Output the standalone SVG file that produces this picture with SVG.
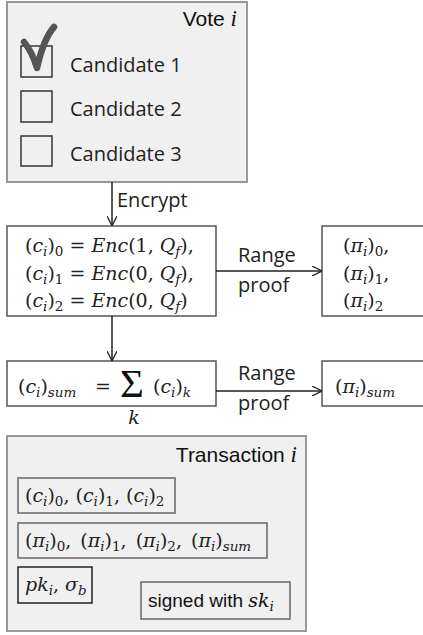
<svg xmlns="http://www.w3.org/2000/svg" width="423" height="635" viewBox="0 0 423 635">
<style>
.panel{fill:#f0f0f0;stroke:#999;stroke-width:2}
.box{fill:#fff;stroke:#555;stroke-width:1.5}
.ibox{fill:none;stroke:#666;stroke-width:1.5}
.cb{fill:none;stroke:#333;stroke-width:1.5}
.h{font-family:"Liberation Sans",Arial,sans-serif;font-size:21px;fill:#111}
.o{font-family:"Open Sans",sans-serif;font-size:20px;fill:#222}
.m{font-family:"DejaVu Serif",serif;font-size:19px;fill:#222}
.i{font-style:italic}
.s{font-size:13.5px}
.edge{fill:none;stroke:#222;stroke-width:1.5}
</style>
<defs>
<marker id="arr" viewBox="0 0 10 10" refX="10" refY="5" markerWidth="10" markerHeight="10" markerUnits="userSpaceOnUse" orient="auto">
<path d="M0,0 L10,5 L0,10" fill="none" stroke="#222" stroke-width="1.3"/>
</marker>
</defs>

<g id="vote">
<rect class="panel" x="7" y="2" width="240" height="180"/>
<text class="h" x="237" y="26" text-anchor="end">Vote <tspan font-family="Liberation Serif" font-style="italic" font-size="23">i</tspan></text>
<rect class="cb" x="21" y="46" width="31" height="31"/>
<rect class="cb" x="21" y="91" width="31" height="31"/>
<rect class="cb" x="21" y="136" width="31" height="30"/>
<path d="M24,42 C29,48 34,58 37,68 C41,50 47,35 54,27" fill="none" stroke="#555" stroke-width="6.5" stroke-linecap="round" stroke-linejoin="round"/>
<text class="o" x="70" y="72">Candidate 1</text>
<text class="o" x="70" y="116">Candidate 2</text>
<text class="o" x="70" y="161">Candidate 3</text>
</g>

<g id="enc">
<rect class="box" x="7" y="226" width="209" height="90"/>
<text class="m" x="25" y="252">(<tspan class="i">c</tspan><tspan class="i s" dy="4">i</tspan><tspan dy="-4">)</tspan><tspan class="s" dy="4">0</tspan><tspan dy="-4"> = </tspan><tspan class="i">Enc</tspan>(1, <tspan class="i">Q</tspan><tspan class="i s" dy="4">f</tspan><tspan dy="-4">),</tspan></text>
<text class="m" x="25" y="280">(<tspan class="i">c</tspan><tspan class="i s" dy="4">i</tspan><tspan dy="-4">)</tspan><tspan class="s" dy="4">1</tspan><tspan dy="-4"> = </tspan><tspan class="i">Enc</tspan>(0, <tspan class="i">Q</tspan><tspan class="i s" dy="4">f</tspan><tspan dy="-4">),</tspan></text>
<text class="m" x="25" y="307">(<tspan class="i">c</tspan><tspan class="i s" dy="4">i</tspan><tspan dy="-4">)</tspan><tspan class="s" dy="4">2</tspan><tspan dy="-4"> = </tspan><tspan class="i">Enc</tspan>(0, <tspan class="i">Q</tspan><tspan class="i s" dy="4">f</tspan><tspan dy="-4">)</tspan></text>
</g>

<g id="proofs">
<rect class="box" x="322" y="226" width="110" height="90"/>
<text class="m" x="343" y="252">(<tspan class="i">π</tspan><tspan class="i s" dy="4">i</tspan><tspan dy="-4">)</tspan><tspan class="s" dy="4">0</tspan><tspan dy="-4">,</tspan></text>
<text class="m" x="343" y="280">(<tspan class="i">π</tspan><tspan class="i s" dy="4">i</tspan><tspan dy="-4">)</tspan><tspan class="s" dy="4">1</tspan><tspan dy="-4">,</tspan></text>
<text class="m" x="343" y="307">(<tspan class="i">π</tspan><tspan class="i s" dy="4">i</tspan><tspan dy="-4">)</tspan><tspan class="s" dy="4">2</tspan></text>
</g>

<g id="sum">
<rect class="box" x="7" y="361" width="209" height="45"/>
<text class="m" x="18" y="393">(<tspan class="i">c</tspan><tspan class="i s" dy="4">i</tspan><tspan dy="-4">)</tspan><tspan class="i s" dy="4">sum</tspan></text>
<text class="m" x="95" y="393">=</text>
<text x="120" y="397" font-family="Liberation Serif" font-size="41" fill="#111">Σ</text>
<text class="m i" x="134" y="424" font-size="15" text-anchor="middle">k</text>
<text class="m" x="153" y="393">(<tspan class="i">c</tspan><tspan class="i s" dy="4">i</tspan><tspan dy="-4">)</tspan><tspan class="i s" dy="4">k</tspan></text>
</g>

<g id="sumproof">
<rect class="box" x="322" y="361" width="110" height="45"/>
<text class="m" x="335" y="393">(<tspan class="i">π</tspan><tspan class="i s" dy="4">i</tspan><tspan dy="-4">)</tspan><tspan class="i s" dy="4">sum</tspan></text>
</g>

<g id="transaction">
<rect class="panel" x="7" y="436" width="299" height="195"/>
<text class="h" x="297" y="462" text-anchor="end">Transaction <tspan font-family="Liberation Serif" font-style="italic" font-size="23">i</tspan></text>
<rect class="ibox" x="18" y="478" width="157" height="35"/>
<text class="m" x="25" y="502">(<tspan class="i">c</tspan><tspan class="i s" dy="4">i</tspan><tspan dy="-4">)</tspan><tspan class="s" dy="4">0</tspan><tspan dy="-4">, (</tspan><tspan class="i">c</tspan><tspan class="i s" dy="4">i</tspan><tspan dy="-4">)</tspan><tspan class="s" dy="4">1</tspan><tspan dy="-4">, (</tspan><tspan class="i">c</tspan><tspan class="i s" dy="4">i</tspan><tspan dy="-4">)</tspan><tspan class="s" dy="4">2</tspan></text>
<rect class="ibox" x="18" y="523" width="249" height="35"/>
<text class="m" x="25" y="547" word-spacing="3">(<tspan class="i">π</tspan><tspan class="i s" dy="4">i</tspan><tspan dy="-4">)</tspan><tspan class="s" dy="4">0</tspan><tspan dy="-4">, (</tspan><tspan class="i">π</tspan><tspan class="i s" dy="4">i</tspan><tspan dy="-4">)</tspan><tspan class="s" dy="4">1</tspan><tspan dy="-4">, (</tspan><tspan class="i">π</tspan><tspan class="i s" dy="4">i</tspan><tspan dy="-4">)</tspan><tspan class="s" dy="4">2</tspan><tspan dy="-4">, (</tspan><tspan class="i">π</tspan><tspan class="i s" dy="4">i</tspan><tspan dy="-4">)</tspan><tspan class="i s" dy="4">sum</tspan></text>
<rect x="18" y="567" width="74" height="36" fill="none" stroke="#222" stroke-width="1.5"/>
<text class="m" x="25" y="591"><tspan class="i">pk</tspan><tspan class="i s" dy="4">i</tspan><tspan dy="-4">, </tspan><tspan class="i">σ</tspan><tspan class="i s" dy="4">b</tspan></text>
<rect class="ibox" x="141" y="582" width="149" height="37"/>
<text x="148" y="607" font-family="Liberation Sans,Arial,sans-serif" font-size="19" fill="#111">signed with <tspan font-family="DejaVu Serif" font-style="italic" font-size="19">sk</tspan><tspan font-family="DejaVu Serif" font-style="italic" font-size="13.5" dy="4">i</tspan></text>
</g>

<g id="connectors">
<line class="edge" x1="112" y1="182" x2="112" y2="226" marker-end="url(#arr)"/>
<text class="o" x="117" y="207">Encrypt</text>
<line class="edge" x1="112" y1="316" x2="112" y2="361" marker-end="url(#arr)"/>
<line class="edge" x1="216" y1="271" x2="322" y2="271" marker-end="url(#arr)"/>
<text class="o" x="238" y="262">Range</text>
<text class="o" x="238" y="292">proof</text>
<line class="edge" x1="216" y1="391" x2="322" y2="391" marker-end="url(#arr)"/>
<text class="o" x="238" y="380">Range</text>
<text class="o" x="238" y="410">proof</text>
</g>
</svg>
